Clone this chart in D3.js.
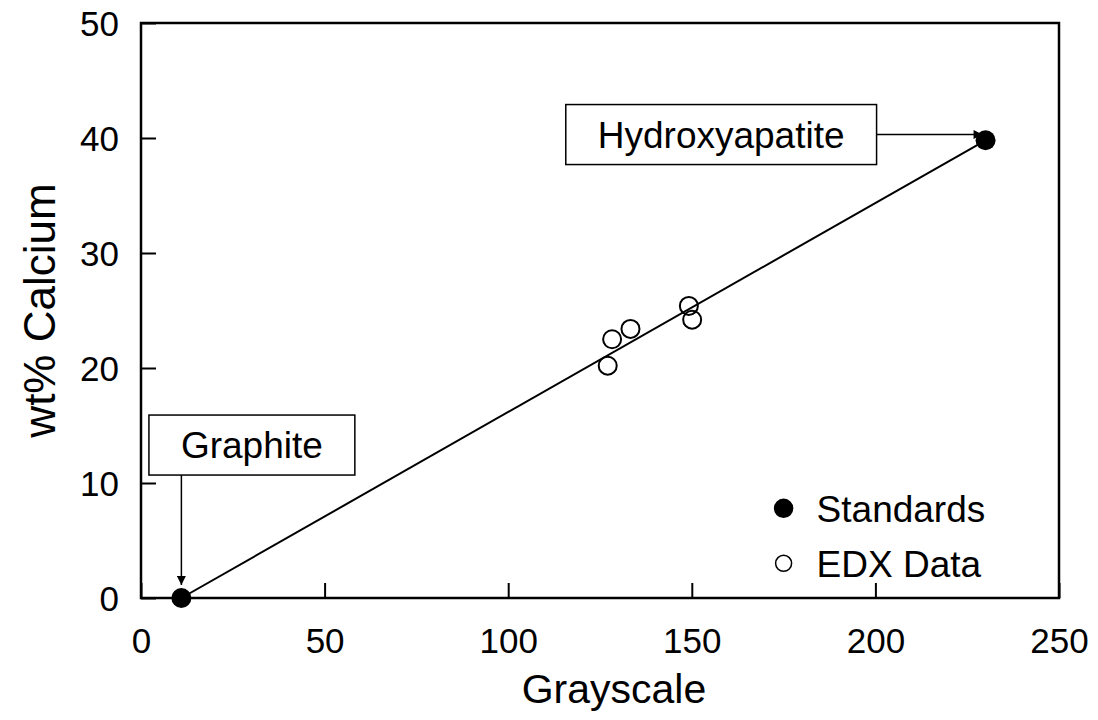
<!DOCTYPE html>
<html>
<head>
<meta charset="utf-8">
<script src="https://cdn.jsdelivr.net/npm/d3@7"></script>
<style>
  body { margin: 0; background: #fff; }
  text { font-family: Arial, "Liberation Sans", sans-serif; fill: #000; }
</style>
</head>
<body>
<svg width="1098" height="720"></svg>
<script>
// standards (filled) and EDX data (open)
var stdNames = ["Graphite", "Hydroxyapatite"];
var stdX = [11, 230];
var stdY = [0, 39.8];

var edxX = [127.1, 128.3, 133.3, 149.2, 150.1];
var edxY = [20.2, 22.5, 23.4, 25.4, 24.2];

var xTicks = [0, 50, 100, 150, 200, 250];
var yTicks = [0, 10, 20, 30, 40, 50];

// label box centres, in data units
var labelX = [30.2, 158];
var labelY = [13.3, 40.3];

var legendNames = ["Standards", "EDX Data"];

var svg = d3.select("svg"),
    margin = {top: 23, right: 39, bottom: 122, left: 141},
    width = +svg.attr("width") - margin.left - margin.right,
    height = +svg.attr("height") - margin.top - margin.bottom,
    g = svg.append("g").attr("transform", "translate(" + margin.left + "," + margin.top + ")");

var x = d3.scaleLinear().domain([0, 250]).range([0, width]);
var y = d3.scaleLinear().domain([0, 50]).range([height, 0]);

svg.append("defs").append("marker")
    .attr("id", "arrow")
    .attr("viewBox", "0 0 10 10")
    .attr("refX", 10).attr("refY", 5)
    .attr("markerWidth", 10).attr("markerHeight", 9)
    .attr("markerUnits", "userSpaceOnUse")
    .attr("orient", "auto")
  .append("path")
    .attr("d", "M0,0L10,5L0,10z")
    .attr("fill", "#000");

// axes, ticks pointing inward
var xAxis = g.append("g")
    .attr("transform", "translate(0," + height + ")")
    .call(d3.axisBottom(x).tickValues(xTicks).tickSizeInner(-15).tickSizeOuter(0).tickPadding(30));
var yAxis = g.append("g")
    .call(d3.axisLeft(y).tickValues(yTicks).tickSizeInner(-15).tickSizeOuter(0).tickPadding(22));

[xAxis, yAxis].forEach(function(a) {
    a.select(".domain").remove();
    a.selectAll("line").attr("stroke", "#000").attr("stroke-width", 2);
    a.selectAll("text").style("font-size", "35px").attr("fill", "#000");
});
yAxis.selectAll("text").attr("dy", "0.36em");

g.append("rect")
    .attr("width", width).attr("height", height)
    .attr("fill", "none").attr("stroke", "#000").attr("stroke-width", 2.5);

// line between the two standards
g.append("line")
    .attr("x1", x(stdX[0])).attr("y1", y(stdY[0]))
    .attr("x2", x(stdX[1])).attr("y2", y(stdY[1]))
    .attr("stroke", "#000").attr("stroke-width", 2);

g.selectAll(".edx")
    .data(edxX)
  .enter().append("circle")
    .attr("class", "edx")
    .attr("cx", function(d) { return x(d); })
    .attr("cy", function(d, i) { return y(edxY[i]); })
    .attr("r", 9)
    .attr("fill", "none").attr("stroke", "#000").attr("stroke-width", 2);

g.selectAll(".std")
    .data(stdX)
  .enter().append("circle")
    .attr("class", "std")
    .attr("cx", function(d) { return x(d); })
    .attr("cy", function(d, i) { return y(stdY[i]); })
    .attr("r", 10)
    .attr("fill", "#000");

// label boxes
var boxes = [];
stdNames.forEach(function(name, i) {
    var lg = g.append("g");
    var t = lg.append("text")
        .attr("x", x(labelX[i])).attr("y", y(labelY[i]))
        .attr("dy", "0.36em")
        .attr("text-anchor", "middle")
        .style("font-size", "37px")
        .text(name);
    var bb = t.node().getBBox();
    var w = bb.width + 64, h = 60;
    lg.insert("rect", "text")
        .attr("x", x(labelX[i]) - w / 2).attr("y", y(labelY[i]) - h / 2)
        .attr("width", w).attr("height", h)
        .attr("fill", "#fff").attr("stroke", "#000").attr("stroke-width", 1.5);
    boxes.push({x0: x(labelX[i]) - w / 2, x1: x(labelX[i]) + w / 2, y0: y(labelY[i]) - h / 2, y1: y(labelY[i]) + h / 2});
});

// Graphite: arrow down from box
g.append("line")
    .attr("x1", x(stdX[0])).attr("y1", boxes[0].y1)
    .attr("x2", x(stdX[0])).attr("y2", y(stdY[0]) - 13)
    .attr("stroke", "#000").attr("stroke-width", 1.5)
    .attr("marker-end", "url(#arrow)");

// Hydroxyapatite: arrow right from box
g.append("line")
    .attr("x1", boxes[1].x1).attr("y1", y(labelY[1]))
    .attr("x2", x(stdX[1]) - 3).attr("y2", y(labelY[1]))
    .attr("stroke", "#000").attr("stroke-width", 1.5)
    .attr("marker-end", "url(#arrow)");

// legend
var legend = g.selectAll(".legend")
    .data(legendNames)
  .enter().append("g")
    .attr("class", "legend")
    .attr("transform", function(d, i) { return "translate(" + x(175) + "," + (y(7.8) + i * 55) + ")"; });

legend.append("circle")
    .attr("r", function(d, i) { return i === 0 ? 9 : 8; })
    .attr("fill", function(d, i) { return i === 0 ? "#000" : "#fff"; })
    .attr("stroke", "#000").attr("stroke-width", 1.5);

legend.append("text")
    .attr("x", 33).attr("dy", "0.36em")
    .style("font-size", "37px")
    .text(function(d) { return d; });

// axis titles
svg.append("text")
    .attr("x", margin.left + width / 2 + 14).attr("y", 703)
    .attr("text-anchor", "middle")
    .style("font-size", "41px")
    .text("Grayscale");

svg.append("text")
    .attr("transform", "translate(55," + (margin.top + height / 2) + ") rotate(-90)")
    .attr("text-anchor", "middle")
    .style("font-size", "44px")
    .text("wt% Calcium");
</script>
</body>
</html>
